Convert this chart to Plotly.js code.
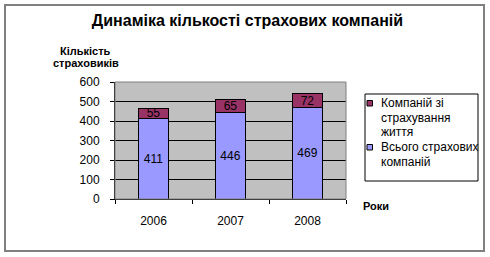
<!DOCTYPE html>
<html>
<head>
<meta charset="utf-8">
<script src="https://cdn.plot.ly/plotly-3.0.1.min.js"></script>
<style>
html,body{margin:0;padding:0;background:#fff;}
#wrap{position:relative;width:490px;height:257px;}
#frame{position:absolute;left:4px;top:4px;width:477px;height:244px;border:2px solid #808080;pointer-events:none;z-index:5;}
#chart{position:absolute;left:0;top:0;width:490px;height:257px;}
</style>
</head>
<body>
<div id="wrap"><div id="chart"></div><div id="frame"></div></div>
<script>
const years = ['2006', '2007', '2008'];
const totalCompanies = [411, 446, 469];
const lifeCompanies = [55, 65, 72];
const nameTotal = ['Всього страхових', 'компаній'];
const nameLife = ['Компаній зі', 'страхування', 'життя'];
const colorTotal = '#9999FF';
const colorLife = '#993366';
const titleText = 'Динаміка кількості страхових компаній';
const yTitle = ['Кількість', 'страховиків'];
const xTitle = 'Роки';

const font = 'Arial, "Liberation Sans", sans-serif';

// plot area in pixels
const L = 115, R = 346, T = 82, B = 199, W = 490, H = 257;
const px = X => (X - L) / (R - L);
const py = Y => (B - Y) / (B - T);

const traces = [
  {
    type: 'bar', x: years, y: totalCompanies, name: nameTotal.join(' '),
    marker: {color: colorTotal, line: {color: '#000', width: 1}},
    text: totalCompanies.map(String), textposition: 'inside', insidetextanchor: 'middle',
    constraintext: 'none', textangle: 0,
    textfont: {family: font, size: 12, color: '#000'}, width: 0.4, hoverinfo: 'none'
  },
  {
    type: 'bar', x: years, y: lifeCompanies, name: nameLife.join(' '),
    marker: {color: colorLife, line: {color: '#000', width: 1}},
    text: lifeCompanies.map(String), textposition: 'inside', insidetextanchor: 'middle',
    constraintext: 'none', textangle: 0,
    textfont: {family: font, size: 12, color: '#000'}, width: 0.4, hoverinfo: 'none'
  }
];

const shapes = [
  {type: 'rect', xref: 'paper', yref: 'paper', x0: 0, x1: 1, y0: 0, y1: 1,
   line: {color: '#808080', width: 1}, fillcolor: 'rgba(0,0,0,0)', layer: 'above'},
  // legend box
  {type: 'rect', xref: 'paper', yref: 'paper', x0: px(365), x1: px(478), y0: py(181), y1: py(94),
   line: {color: '#000', width: 1}, fillcolor: '#fff', layer: 'above'},
  {type: 'rect', xref: 'paper', yref: 'paper', x0: px(367), x1: px(372.5), y0: py(106), y1: py(100.5),
   line: {color: '#000', width: 1}, fillcolor: colorLife, layer: 'above'},
  {type: 'rect', xref: 'paper', yref: 'paper', x0: px(367), x1: px(372.5), y0: py(150), y1: py(144.5),
   line: {color: '#000', width: 1}, fillcolor: colorTotal, layer: 'above'}
];

const annotations = [];
const addLines = (lines, x, y0, step) => lines.forEach((t, i) => annotations.push({
  text: t, xref: 'paper', yref: 'paper', x: px(x), y: py(y0 + i * step),
  xanchor: 'left', yanchor: 'middle', showarrow: false,
  font: {family: font, size: 12, color: '#000'}
}));
addLines(nameLife, 378.5, 103.3, 14.3);
addLines(nameTotal, 378.5, 146.7, 14.8);
yTitle.forEach((t, i) => annotations.push({
  text: '<b>' + t + '</b>', xref: 'paper', yref: 'paper', x: px(85.5), y: py(51 + i * 12.5),
  xanchor: 'center', yanchor: 'middle', showarrow: false,
  font: {family: font, size: 11, color: '#000'}
}));
annotations.push({
  text: '<b>' + xTitle + '</b>', xref: 'paper', yref: 'paper', x: px(361), y: py(206),
  xanchor: 'left', yanchor: 'middle', showarrow: false,
  font: {family: font, size: 11, color: '#000'}
});

const layout = {
  width: W, height: H,
  margin: {l: L, r: W - R, t: T, b: H - B, pad: 0},
  paper_bgcolor: '#fff', plot_bgcolor: '#C0C0C0',
  barmode: 'stack', showlegend: false,
  font: {family: font, size: 12, color: '#000'},
  title: {text: '<b>' + titleText + '</b>', font: {family: font, size: 16, color: '#000'},
          x: 247.5 / W, xanchor: 'center', xref: 'container', y: 1 - 20 / H, yanchor: 'middle', yref: 'container'},
  xaxis: {
    type: 'category', tickson: 'boundaries', ticks: 'outside', ticklen: 4, tickcolor: '#000',
    showline: true, linecolor: '#000', linewidth: 1, showgrid: false, zeroline: false,
    ticklabelstandoff: 11,
    tickfont: {family: font, size: 12}, fixedrange: true
  },
  yaxis: {
    range: [0, 600], dtick: 100, ticks: 'outside', ticklen: 4, tickcolor: '#000',
    showline: true, linecolor: '#000', linewidth: 1,
    showgrid: true, gridcolor: '#000', gridwidth: 1, zeroline: false,
    ticklabelstandoff: 8,
    tickfont: {family: font, size: 12}, fixedrange: true
  },
  shapes: shapes,
  annotations: annotations
};

Plotly.newPlot('chart', traces, layout, {displayModeBar: false, staticPlot: true});
</script>
</body>
</html>
